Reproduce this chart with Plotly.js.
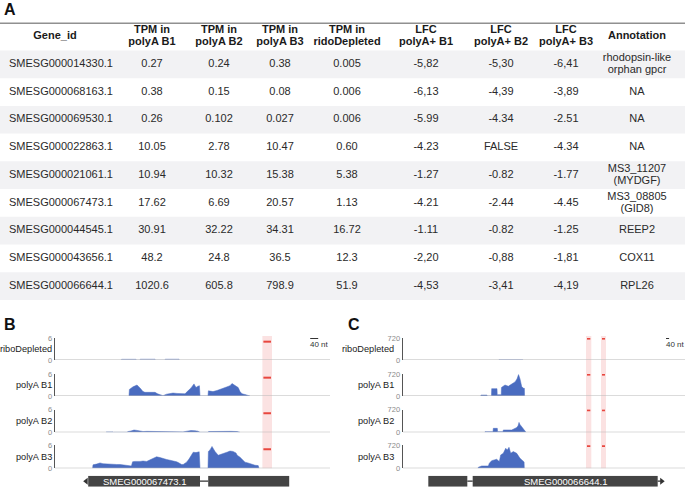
<!DOCTYPE html>
<html><head><meta charset="utf-8">
<script src="https://cdn.plot.ly/plotly-3.0.1.min.js"></script>
<style>html,body{margin:0;padding:0;background:#fff}#chart{width:685px;height:487px}</style>
</head><body><div id="chart"></div>
<script>
// ---------------- Panel A : table data ----------------
const headers = ["Gene_id","TPM in<br>polyA B1","TPM in<br>polyA B2","TPM in<br>polyA B3","TPM in<br>ridoDepleted","LFC<br>polyA+ B1","LFC<br>polyA+ B2","LFC<br>polyA+ B3","Annotation"];
const geneIds = ["SMESG000014330.1","SMESG000068163.1","SMESG000069530.1","SMESG000022863.1","SMESG000021061.1","SMESG000067473.1","SMESG000044545.1","SMESG000043656.1","SMESG000066644.1"];
const tpmB1 = ["0.27","0.38","0.26","10.05","10.94","17.62","30.91","48.2","1020.6"];
const tpmB2 = ["0.24","0.15","0.102","2.78","10.32","6.69","32.22","24.8","605.8"];
const tpmB3 = ["0.38","0.08","0.027","10.47","15.38","20.57","34.31","36.5","798.9"];
const tpmRibo = ["0.005","0.006","0.006","0.60","5.38","1.13","16.72","12.3","51.9"];
const lfcB1 = ["-5,82","-6,13","-5.99","-4.23","-1.27","-4.21","-1.11","-2,20","-4,53"];
const lfcB2 = ["-5,30","-4,39","-4.34","FALSE","-0.82","-2.44","-0.82","-0,88","-3,41"];
const lfcB3 = ["-6,41","-3,89","-2.51","-4.34","-1.77","-4.45","-1.25","-1,81","-4,19"];
const annotation = ["rhodopsin-like<br>orphan gpcr","NA","NA","NA","MS3_11207<br>(MYDGF)","MS3_08805<br>(GID8)","REEP2","COX11","RPL26"];

// ---------------- Panel B : coverage (nt, value) ----------------
const trackNames = ["riboDepleted","polyA B1","polyA B2","polyA B3"];
const bRiboX = [330,333,405,407,425,427,500,502,550,552,620,622];
const bRiboY = [0,0.25,0.25,0,0,0.3,0.3,0,0,0.3,0.3,0];
const bB1X = [370,372,390,410,425,440,450,475,500,513,525,540,558,575,590,610,625,650,665,680,695,705,712,722,725,765,767,790,810,825,845,860,875,885,895,905,916,925,935,950,965,975];
const bB1Y = [0,1.8,2.5,3.0,2.2,1.2,1.0,1.1,1.0,0.6,0.3,0.1,0.5,0.7,0.8,0.7,0.6,0.6,1.4,2.2,3.3,2.3,2.6,2.8,0,0,1.4,1.2,1.5,1.8,2.2,2.4,2.8,3.4,3.0,2.6,2.3,1.2,0.6,0.4,0.2,0];
const bB2X = [255,258,290,292,360,365,380,395,410,425,440,460,480,500,515,530,560,590,620,640,660,680,700,715,725,766,768,800,840,880,910,918,925];
const bB2Y = [0,0.1,0.1,0,0,0.2,0.35,0.6,0.5,0.3,0.2,0.25,0.25,0.2,0.1,0.2,0.2,0.2,0.15,0.1,0.3,0.45,0.4,0.3,0,0,0.2,0.25,0.3,0.25,0.2,0.05,0];
const bB3X = [188,190,208,225,240,258,275,292,308,325,342,358,382,388,400,425,440,458,475,491,508,525,541,558,575,591,608,616,633,641,658,670,683,691,705,721,725,765,767,775,785,790,800,816,830,841,860,875,890,905,911,925,933,950,965,983,1000,1016,1020];
const bB3Y = [0,0.9,1.1,1.4,1.2,1.1,1.2,1.1,1.0,1.0,0.9,0.8,0.6,1.7,1.8,1.8,1.9,1.8,2.2,2.6,3.0,2.8,2.5,2.3,2.1,2.0,1.7,1.5,1.0,1.0,1.6,2.4,3.5,4.2,4.1,4.3,0,0,4.4,4.8,5.7,5.2,4.4,3.4,3.6,3.9,4.2,4.5,4.4,4.0,3.4,2.9,2.5,1.6,1.4,1.0,0.8,0.7,0];
const bHighlights = [[1037,1085]];
const bMarkValue = 5;
const bExons = [[166,725],[766,1171]];
const bGene = "SMEG000067473.1";

// ---------------- Panel C : coverage (nt, value) ----------------
const cRiboX = [1245,1248,1556,1559];
const cRiboY = [0,15,15,0];
const cB1X = [1010,1014,1092,1095,1150,1153,1222,1225,1277,1280,1326,1369,1413,1456,1482,1502,1521,1543,1567,1578,1580];
const cB1Y = [0,30,30,0,0,240,240,40,40,280,360,320,390,460,560,700,560,310,250,250,0];
const cB2X = [1063,1066,1170,1174,1226,1230,1300,1304,1413,1430,1474,1495,1508,1520,1540,1586,1599];
const cB2Y = [0,20,20,125,125,20,20,73,73,94,146,200,313,250,177,20,0];
const cB3X = [975,979,1023,1109,1122,1153,1218,1252,1270,1304,1335,1356,1378,1400,1434,1478,1521,1556,1574,1577];
const cB3Y = [0,31,73,73,156,240,282,209,417,470,626,574,657,470,522,470,313,240,200,0];
const cHighlights = [[2379,2448],[2574,2639]];
const cMarkValue = 700;
const cExons = [[329,836],[906,3311]];
const cGene = "SMEG000066644.1";

// ---------------- drawing ----------------
const W = 685, H = 487;
const FONT = 'Liberation Sans, Arial, Helvetica, sans-serif';
const py = p => 1 - p / H;
const BLUE = '#4a6cc0';

const traces = [];
const layout = {
  width: W, height: H, margin: {l:0,r:0,t:0,b:0,pad:0},
  paper_bgcolor: '#ffffff', plot_bgcolor: 'rgba(0,0,0,0)', showlegend: false,
  font: {family: FONT, color: '#222'},
  shapes: [], annotations: [],
  xaxis: {domain:[0,1], range:[0,W], visible:false, fixedrange:true},
  yaxis: {domain:[py(300), py(22.7)], range:[8.5,-1.5], visible:false, fixedrange:true}
};

// Table
const columns = [geneIds,tpmB1,tpmB2,tpmB3,tpmRibo,lfcB1,lfcB2,lfcB3,annotation];
const colX = [9,152,219,280,347,426,501,566,637];
const headX = [55,152,219,280,347,426,501,566,637];
const LINE_OFF = 0.21; // row fraction between the two lines of a wrapped cell

// expand cells into single lines so wrapped text keeps a tight line spacing
function cellLines(values, rowOf) {
  const xs = [], ys = [], ts = [];
  values.forEach((v, r) => {
    const parts = v.split('<br>');
    parts.forEach((p, j) => {
      ts.push(p);
      ys.push(rowOf(r) + (j - (parts.length - 1) / 2) * 2 * LINE_OFF);
    });
  });
  return {ys, ts};
}

for (let r = 0; r < geneIds.length; r += 2) {
  layout.shapes.push({type:'rect', xref:'paper', yref:'y', x0:0, x1:1, y0:r-0.5, y1:r+0.5,
    fillcolor:'#f2f2f4', line:{width:0}, layer:'below'});
}
layout.shapes.push({type:'line', xref:'paper', yref:'y', x0:0, x1:1, y0:-1.5, y1:-1.5, line:{color:'#222', width:1.6}});
columns.forEach((col, i) => {
  const c = cellLines(col, r => r);
  traces.push({type:'scatter', mode:'text', xaxis:'x', yaxis:'y',
    x: c.ts.map(() => colX[i]), y: c.ys, text: c.ts,
    textposition: i === 0 ? 'middle right' : 'middle center',
    textfont: {family: FONT, size: 11, color: '#2a2a2a'}, cliponaxis:false, hoverinfo:'skip'});
  const h = cellLines([headers[i]], () => -1);
  traces.push({type:'scatter', mode:'text', xaxis:'x', yaxis:'y',
    x: h.ts.map(() => headX[i]), y: h.ys, text: h.ts.map(t => '<b>' + t + '</b>'),
    textposition:'middle center',
    textfont: {family: FONT, size: 11, color: '#1a1a1a'}, cliponaxis:false, hoverinfo:'skip'});
});

layout.annotations.push({xref:'paper', yref:'paper', x:2/W, y:py(10), xanchor:'left', yanchor:'middle',
  text:'<b>A</b>', showarrow:false, font:{family:FONT, size:16, color:'#111'}});

// Tracks
const tracks = [{top:338, base:360}, {top:374, base:396}, {top:409.5, base:432.3}, {top:445.3, base:468.3}];
const panels = [
  {letter:'B', letterX:2, xa:'x2', xKey:'xaxis2', px:[55,330], range:[0,1375], yStart:2, max:6,
   covX:[bRiboX,bB1X,bB2X,bB3X], covY:[bRiboY,bB1Y,bB2Y,bB3Y], hl:bHighlights, mark:bMarkValue,
   labelRight:52.5, exons:bExons, strand:-1, gene:bGene, labelExon:0, scaleAt:1271, geneY:10},
  {letter:'C', letterX:346, xa:'x3', xKey:'xaxis3', px:[403,685], range:[0,3666], yStart:6, max:720,
   covX:[cRiboX,cB1X,cB2X,cB3X], covY:[cRiboY,cB1Y,cB2Y,cB3Y], hl:cHighlights, mark:cMarkValue,
   labelRight:394.5, exons:cExons, strand:1, gene:cGene, labelExon:1, scaleAt:3406, geneY:11}
];

panels.forEach(P => {
  const ntPerPx = (P.range[1] - P.range[0]) / (P.px[1] - P.px[0]);
  layout[P.xKey] = {domain:[P.px[0]/W, P.px[1]/W], range:P.range, visible:false, fixedrange:true,
    anchor:'y' + P.yStart};
  layout.annotations.push({xref:'paper', yref:'paper', x:P.letterX/W, y:py(324.5), xanchor:'left', yanchor:'middle',
    text:'<b>' + P.letter + '</b>', showarrow:false, font:{family:FONT, size:16, color:'#111'}});
  P.hl.forEach(h => {
    layout.shapes.push({type:'rect', xref:P.xa, yref:'paper', x0:h[0], x1:h[1], y0:py(468.3), y1:py(336),
      fillcolor:'#fbe2e2', line:{width:0}, layer:'below'});
  });
  tracks.forEach((t, k) => {
    const yn = P.yStart + k;
    const ya = 'y' + yn;
    layout['yaxis' + yn] = {domain:[py(t.base), py(t.top)], range:[0, P.max], anchor:P.xa,
      showline:true, linecolor:'#555', linewidth:1.4, showgrid:false, zeroline:false,
      ticks:'', tickvals:[0, P.max], ticktext:['0', String(P.max)],
      tickfont:{family:FONT, size:7.5, color:'#8a8a8a'}, fixedrange:true};
    layout.shapes.push({type:'line', xref:P.xa + ' domain', yref:ya, x0:0, x1:1, y0:0, y1:0,
      line:{color:'#b8b8b8', width:1.2}});
    const ribo = k === 0;
    traces.push({type:'scatter', mode:'lines', xaxis:P.xa, yaxis:ya, x:P.covX[k], y:P.covY[k],
      fill:'tozeroy', fillcolor: ribo ? 'rgba(74,108,192,0.45)' : BLUE,
      line:{color: ribo ? 'rgba(74,108,192,0.45)' : BLUE, width:0.5}, hoverinfo:'skip'});
    P.hl.forEach(h => {
      traces.push({type:'scatter', mode:'lines', xaxis:P.xa, yaxis:ya,
        x:[h[0] + ntPerPx, h[1] - ntPerPx], y:[P.mark, P.mark],
        line:{color:'#e8473f', width:2}, hoverinfo:'skip'});
    });
    layout.annotations.push({xref:'paper', yref:'paper', x:P.labelRight/W, y:py((t.top + t.base)/2),
      xanchor:'right', yanchor:'middle', text:trackNames[k], showarrow:false, borderpad:0,
      font:{family:FONT, size:9.2, color:'#222'}});
  });
  layout.shapes.push({type:'line', xref:P.xa, yref:'paper', x0:P.scaleAt + ntPerPx, x1:P.scaleAt + ntPerPx + 40,
    y0:py(338.5), y1:py(338.5), line:{color:'#333', width:1}});
  layout.annotations.push({xref:P.xa, yref:'paper', x:P.scaleAt, y:py(344.5), xanchor:'left', yanchor:'middle',
    text:'40 nt', showarrow:false, font:{family:FONT, size:8, color:'#333'}, borderpad:0});
  const gy = 'y' + P.geneY;
  layout['yaxis' + P.geneY] = {domain:[py(486.7), py(475.7)], range:[0,1], anchor:P.xa, visible:false, fixedrange:true};
  P.exons.forEach((e, i) => {
    layout.shapes.push({type:'rect', xref:P.xa, yref:gy, x0:e[0], x1:e[1], y0:0, y1:1,
      fillcolor:'#444444', line:{width:0}});
    if (i > 0) {
      layout.shapes.push({type:'line', xref:P.xa, yref:gy, x0:P.exons[i-1][1], x1:e[0], y0:0.5, y1:0.5,
        line:{color:'#333', width:1.2}});
    }
  });
  if (P.strand < 0) {
    const s = P.exons[0][0];
    traces.push({type:'scatter', mode:'markers', xaxis:P.xa, yaxis:gy, x:[s - 2*ntPerPx], y:[0.5],
      marker:{symbol:'triangle-left', size:6, color:'#333'}, hoverinfo:'skip', cliponaxis:false});
  } else {
    const e = P.exons[P.exons.length-1][1];
    layout.shapes.push({type:'line', xref:P.xa, yref:gy, x0:e, x1:e + 4*ntPerPx, y0:0.5, y1:0.5,
      line:{color:'#333', width:1.2}});
    traces.push({type:'scatter', mode:'markers', xaxis:P.xa, yaxis:gy, x:[e + 4*ntPerPx], y:[0.5],
      marker:{symbol:'triangle-right', size:6, color:'#333'}, hoverinfo:'skip', cliponaxis:false});
  }
  const le = P.exons[P.labelExon];
  layout.annotations.push({xref:P.xa, yref:gy, x:(le[0] + le[1])/2, y:0.5, xanchor:'center', yanchor:'middle',
    text:P.gene, showarrow:false, font:{family:FONT, size:9.5, color:'#ffffff'}});
});

Plotly.newPlot('chart', traces, layout, {displayModeBar:false, staticPlot:true});
</script></body></html>
